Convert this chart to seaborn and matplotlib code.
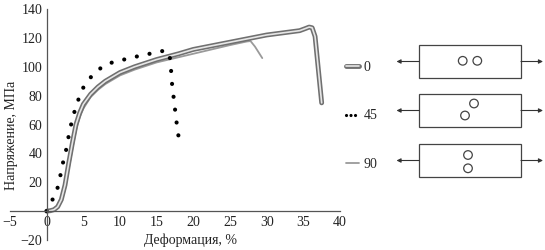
import matplotlib
matplotlib.use("Agg")
import matplotlib.pyplot as plt
import seaborn as sns
from matplotlib.lines import Line2D
from matplotlib.patches import Rectangle, Circle
import matplotlib.patheffects as pe

# ---- data ----
strain_0 = [0, 0.5, 1.0, 1.5, 2.0, 2.5, 3.0, 3.5, 4.0, 4.5, 5.0, 6.0, 7.0, 8.0,
            10.0, 12.0, 15.0, 18.0, 20.0, 25.0, 30.0, 34.5, 35.3, 35.8, 36.2, 36.6, 37.5]
stress_0 = [0, 0.3, 1.0, 3.0, 8.0, 18.0, 33.0, 47.0, 60.0, 68.0, 74.0, 81.0, 86.0, 90.0,
            96.0, 100.0, 105.0, 109.0, 112.0, 117.0, 122.0, 125.0, 126.5, 127.5, 127.0, 121.0, 75.0]

strain_45 = [0, 0.4, 0.8, 1.2, 1.7, 2.1, 2.6, 3.0, 3.5, 4.1, 4.8, 5.7, 6.8, 8.2,
             9.8, 11.3, 13.1, 15.0, 15.9, 16.7, 16.9, 17.1, 17.4, 17.7, 18.0]
stress_45 = [0, 4, 8, 11, 20, 31, 41, 52, 64, 74, 84, 91, 97, 102,
             104, 106, 108, 110, 111, 110, 102, 88, 75, 62, 51]

strain_90 = [0, 0.5, 1.0, 1.5, 2.0, 2.5, 3.0, 3.5, 4.0, 4.5, 5.0, 6.0, 7.0, 8.0,
             10.0, 12.0, 15.0, 20.0, 25.0, 27.3, 27.8, 28.4, 29.4]
stress_90 = [0, 0.3, 0.8, 2.5, 6.5, 15.0, 29.0, 43.0, 56.0, 65.0, 71.0, 79.0, 84.0, 88.0,
             94.0, 98.0, 103.0, 109.0, 115.0, 117.5, 117.8, 114.0, 106.0]

labels = ["0", "45", "90"]
x_ticks = [-5, 0, 5, 10, 15, 20, 25, 30, 35, 40]
y_ticks = [-20, 0, 20, 40, 60, 80, 100, 120, 140]
y_ticklabels = ["\u221220", "", "20", "40", "60", "80", "100", "120", "140"]
x_label = "Деформация, %"
y_label = "Напряжение, МПа"

# ---- style ----
sns.set_style("white")
plt.rcParams["font.family"] = ["Liberation Serif", "DejaVu Serif"]
FS = 10
plt.rcParams["font.size"] = FS

W, H = 545, 250
fig = plt.figure(figsize=(W / 100, H / 100), dpi=100)
ax = fig.add_axes([10 / W, 10 / H, 330 / W, 231 / H])
ax.set_facecolor("none")

axis_col = "#555555"
tube_dark = "#707070"
tube_light = "#e6e6e6"
text_col = "#222222"

# 90 curve (thin gray)
sns.lineplot(x=strain_90, y=stress_90, ax=ax, sort=False, estimator=None,
             color="#9a9a9a", linewidth=1.3)
# 0 curve (tube)
l0 = sns.lineplot(x=strain_0, y=stress_0, ax=ax, sort=False, estimator=None,
                  color=tube_light, linewidth=1.2).lines[-1]
l0.set_path_effects([pe.Stroke(linewidth=3.5, foreground=tube_dark), pe.Normal()])
# 45 curve (dotted)
l45 = sns.lineplot(x=strain_45, y=stress_45, ax=ax, sort=False, estimator=None,
                   color="black", linewidth=3.0).lines[-1]
l45.set_linestyle((0, (0.01, 3.1)))
l45.set_dash_capstyle("round")

ax.set_xlim(-5, 40)
ax.set_ylim(-20, 140)
for s in ["top", "right"]:
    ax.spines[s].set_visible(False)
ax.spines["left"].set_position(("data", 0))
ax.spines["bottom"].set_position(("data", 0))
for s in ["left", "bottom"]:
    ax.spines[s].set_color(axis_col)
    ax.spines[s].set_linewidth(0.9)

ax.set_xticks(x_ticks)
ax.set_xticklabels(["\u22125"] + [str(v) for v in x_ticks[1:]])
ax.set_yticks(y_ticks)
ax.set_yticklabels(y_ticklabels)
ax.tick_params(axis="both", direction="in", length=3.5, width=0.8, color=axis_col,
               labelsize=FS, labelcolor=text_col)
ax.tick_params(axis="x", pad=3.5)
ax.tick_params(axis="y", pad=3)

ax.set_xlabel(x_label, fontsize=FS, color=text_col)
ax.xaxis.set_label_coords(0.548, 0.0)
ax.xaxis.label.set_verticalalignment("center")
ax.set_ylabel(y_label, fontsize=FS, color=text_col)
ax.yaxis.set_label_coords(0.005, 0.4545)
ax.yaxis.label.set_verticalalignment("center")

# ---- legend ----
h0 = Line2D([], [], color=tube_light, linewidth=1.2,
            path_effects=[pe.Stroke(linewidth=3.5, foreground=tube_dark), pe.Normal()])
h45 = Line2D([], [], color="black", linewidth=2.3, linestyle=(0, (0.01, 1.4)),
             dash_capstyle="round")
h90 = Line2D([], [], color="#9a9a9a", linewidth=1.3)
fig.legend([h0, h45, h90], labels, loc="upper left",
           bbox_to_anchor=(346 / W, 1 - 61 / H), frameon=False,
           handlelength=0.95, handletextpad=0.3, labelspacing=2.55,
           borderpad=0, borderaxespad=0, fontsize=FS)

# ---- specimen sketches ----
ov = fig.add_axes([0, 0, 1, 1])
ov.set_xlim(0, W)
ov.set_ylim(H, 0)
ov.axis("off")
ov.patch.set_alpha(0)

rects = [(45, 78), (94, 127), (144, 177)]
circles = [[(462.7, 60.8), (477.3, 60.8)],
           [(474.0, 103.5), (465.0, 115.5)],
           [(468.0, 155.0), (468.0, 168.3)]]
for (y0, y1), cs in zip(rects, circles):
    ov.add_patch(Rectangle((419.3, y0), 101.7, y1 - y0, fill=False,
                           edgecolor="#444444", linewidth=0.9))
    ym = (y0 + y1) / 2
    ov.annotate("", xy=(396.5, ym), xytext=(419.3, ym),
                arrowprops=dict(arrowstyle="-|>", color="#333333", lw=0.8,
                                mutation_scale=6, shrinkA=0, shrinkB=0))
    ov.annotate("", xy=(543, ym), xytext=(521, ym),
                arrowprops=dict(arrowstyle="-|>", color="#333333", lw=0.8,
                                mutation_scale=6, shrinkA=0, shrinkB=0))
    for cx, cy in cs:
        ov.add_patch(Circle((cx, cy), 4.3, fill=False, edgecolor="#444444",
                            linewidth=0.9))

fig.savefig("out.png", dpi=100)
